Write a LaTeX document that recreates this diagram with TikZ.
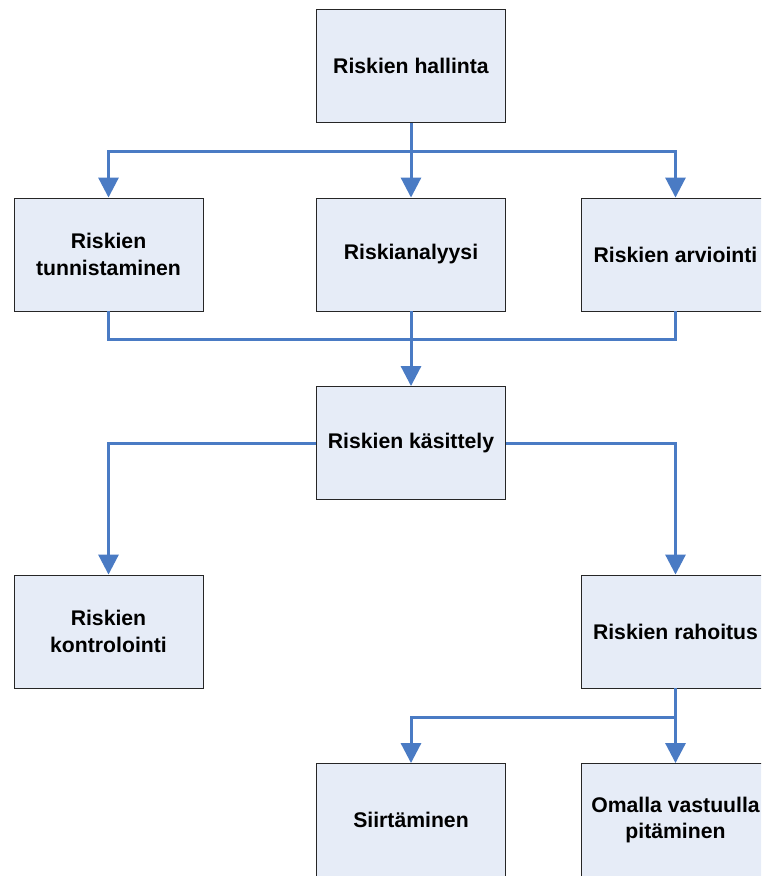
\documentclass[tikz,border=0pt]{standalone}
\usepackage{fontspec}
\setmainfont{Liberation Sans}
\usetikzlibrary{arrows.meta}
\definecolor{boxfill}{HTML}{E6ECF7}
\definecolor{linkblue}{HTML}{4A7BC4}
\begin{document}
\begin{tikzpicture}[x=1pt,y=-1pt,
  box/.style={draw=black!85,line width=0.9pt,fill=boxfill,minimum width=189pt,minimum height=113pt,
    inner sep=0pt,align=center,font=\fontsize{21.2}{26.5}\selectfont\bfseries},
  link/.style={draw=linkblue,line width=3pt},
  arr/.style={link,-{Triangle[length=20pt,width=20pt]}}]
\useasboundingbox (0,0) rectangle (761,876);
\clip (0,0) rectangle (761,876);
\fill[white] (0,0) rectangle (761,876);
\node[box] (hal) at (411,66) {Riskien hallinta};
\node[box] (tun) at (108.5,254.5) {Riskien\\tunnistaminen};
\node[box] (ana) at (411,254.5) {Riskianalyysi};
\node[box] (arv) at (675.5,254.5) {Riskien arviointi};
\node[box] (kas) at (411,443) {Riskien käsittely};
\node[box] (kon) at (108.5,631.5) {Riskien\\kontrolointi};
\node[box] (rah) at (675.5,631.5) {Riskien rahoitus};
\node[box] (sii) at (411,820) {Siirtäminen};
\node[box] (oma) at (675.5,820) {Omalla vastuulla\\pitäminen};
% top level
\coordinate (j1) at (411,151);
\draw[arr] (hal.south) -- (ana.north);
\draw[arr] (j1) -| (tun.north);
\draw[arr] (j1) -| (arv.north);
% to kasittely
\draw[link] (tun.south) |- (411,339) -| (arv.south);
\draw[arr] (ana.south) -- (kas.north);
% from kasittely
\draw[arr] (kas.west) -| (kon.north);
\draw[arr] (kas.east) -| (rah.north);
% from rahoitus
\coordinate (j2) at (675.5,717);
\draw[arr] (rah.south) -- (oma.north);
\draw[arr] (j2) -| (sii.north);
\end{tikzpicture}
\end{document}
